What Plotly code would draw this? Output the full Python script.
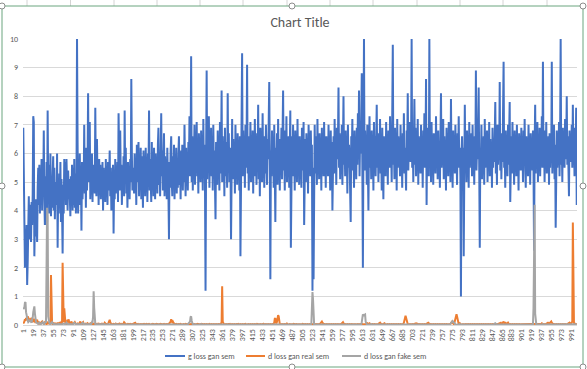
import plotly.graph_objects as go

# ---------------- data ----------------
# g loss gan sem, in tenths
g_loss_tenths = [
    69,41,30,20,32,26,35,14,22,38, 45,30,42,34,29,43,35,46,73,71, 24,36,31,44,38,29,48,55,42,56, 39,51,46,58,40,55,47,68,44,35, 52,35,57,36,75,48,56,39,44,60,
    38,47,41,52,59,40,55,37,50,46, 42,60,27,48,39,53,44,57,36,51, 40,25,49,39,58,45,57,42,58,47, 40,54,44,51,39,38,52,43,56,40, 55,42,58,41,53,39,48,100,65,39,
    55,42,60,45,52,33,57,44,53,48, 70,46,58,41,62,47,55,81,50,58, 71,44,53,49,60,43,56,48,52,46, 76,50,45,65,51,57,42,58,47,56, 44,53,49,57,40,55,46,52,43,58,
    48,54,42,57,47,52,61,45,55,40, 53,47,56,32,50,44,58,46,54,49, 57,43,74,52,47,68,51,56,42,55, 48,59,45,75,50,62,46,55,41,57, 49,53,44,58,50,86,60,47,55,52,
    46,60,49,55,42,63,50,57,64,45, 58,48,62,44,59,52,41,61,49,56, 45,62,50,57,43,60,53,75,47,58, 52,43,64,49,57,45,62,51,44,60, 50,58,46,63,69,49,60,45,56,74,
    52,61,47,56,67,45,59,50,55,44, 62,51,46,30,57,48,61,66,50,45, 59,49,63,44,56,50,62,46,57,48, 60,66,49,56,44,61,52,63,47,58, 50,70,54,45,62,51,58,47,64,55,
    73,52,60,94,50,66,47,62,55,70, 49,64,57,71,52,60,46,67,58,63, 50,68,55,61,47,72,54,63,49,12, 58,89,51,66,56,73,48,62,57,69, 52,65,47,70,55,61,50,37,64,58,
    49,68,56,63,47,71,53,60,82,50, 66,55,61,45,69,52,64,57,48,81, 54,67,50,62,58,30,60,72,51,65, 56,61,46,70,53,64,49,67,58,62, 47,66,24,60,55,95,52,68,57,63,
    48,70,55,61,91,53,66,47,63,58, 71,50,62,55,68,46,64,57,72,52, 60,49,67,56,77,51,63,45,69,58, 62,50,74,55,60,48,66,53,70,57, 49,65,58,71,85,56,16,61,52,68,
    55,63,48,70,57,36,62,53,67,49, 72,56,60,47,65,58,69,51,64,82, 54,61,47,68,57,73,50,62,55,66, 48,64,75,27,59,66,52,70,56,61, 47,68,58,63,50,72,55,61,49,66,
    57,62,48,69,54,60,71,35,58,65, 50,67,56,62,46,70,59,64,52,68, 57,63,12,55,16,61,70,53,66,58, 49,72,56,63,51,67,58,62,47,69, 55,64,52,71,57,60,48,66,59,63,
    52,70,56,61,47,68,54,64,40,60, 66,53,72,57,62,49,69,58,64,83, 55,67,51,63,58,70,49,62,80,56, 64,52,68,57,61,46,70,55,63,58, 50,36,66,59,72,54,62,48,68,57,
    63,51,69,56,74,58,82,52,66,60, 71,88,57,20,63,100,54,68,59,64, 49,70,56,40,62,73,55,65,51,68, 58,63,47,71,56,66,52,60,77,55, 67,50,64,58,72,53,62,47,69,57,
    44,66,58,63,52,71,56,64,49,68, 60,55,73,57,62,50,67,98,56,64, 51,69,58,62,47,72,55,66,59,63, 52,70,57,61,48,67,58,74,53,62, 56,47,68,60,81,54,65,59,71,57,
    62,100,55,67,50,63,79,56,69,52, 64,58,72,49,66,57,61,53,70,56, 63,48,68,59,74,55,62,86,42,64, 57,69,52,100,58,66,50,71,56,63, 49,67,58,62,53,73,56,65,51,68,
    57,62,48,70,81,55,64,59,72,51, 66,57,61,47,69,56,63,52,71,58, 64,50,79,57,62,48,68,56,65,53, 70,57,61,49,67,58,73,55,62,52, 10,60,66,55,62,24,58,77,54,63,
    50,68,57,62,48,71,55,64,59,67, 52,70,58,63,49,66,57,89,54,62, 58,67,83,55,27,62,56,70,51,64, 58,66,49,72,55,61,57,68,50,63, 56,71,52,65,58,62,48,69,55,64,
    57,66,78,53,62,49,70,56,64,58, 85,54,67,51,63,57,72,92,55,61, 48,68,57,63,52,70,56,65,78,43, 60,66,53,71,57,62,49,68,58,64, 52,70,56,61,47,67,59,63,54,69,
    57,63,50,68,56,72,55,48,66,59, 62,52,70,57,64,49,67,58,61,54, 68,55,26,62,77,53,66,58,71,50, 64,57,69,52,62,58,73,55,92,57, 63,50,68,56,71,53,62,58,66,49,
    67,55,62,58,92,53,66,59,70,51, 63,34,60,68,55,62,57,71,52,65, 100,56,63,50,69,57,64,55,72,58, 62,80,56,66,52,45,68,59,63,57, 70,55,77,58,66,52,69,60,76,42,
]

# d loss gan real sem, in hundredths
d_real_hundredths = [
    5,8,12,20,15,25,18,22,30,26, 18,22,15,12,20,25,18,10,14,22, 16,10,8,12,15,18,10,6,8,5, 4,6,8,10,12,7,5,4,8,10, 6,4,3,5,8,6,4,5,10,8,
    175,20,5,3,4,6,3,2,5,4, 3,5,8,4,3,6,10,5,8,5, 10,218,30,10,58,20,8,5,4,12, 18,10,20,4,3,5,8,12,6,4, 3,5,8,10,6,4,3,2,5,4,
    3,5,8,12,6,4,3,8,10,5, 4,3,2,5,3,4,6,3,2,4, 3,5,8,4,3,2,4,3,5,3, 2,3,4,2,3,5,3,2,4,3, 2,3,5,4,3,2,3,8,6,3,
    2,3,4,3,8,12,18,10,4,3, 2,3,2,4,3,2,3,5,3,2, 3,2,4,3,5,3,2,4,3,2, 3,6,10,8,4,3,2,3,2,4, 3,2,3,4,2,3,2,3,4,3,
    4,6,8,5,3,2,3,4,2,3, 2,3,2,4,3,2,3,2,4,3, 2,3,4,2,3,2,5,4,3,2, 3,2,3,2,4,3,2,3,2,3, 2,4,3,2,3,2,3,2,4,3,
    2,3,2,3,4,2,3,2,3,2, 3,2,4,3,5,8,12,20,15,10, 12,8,5,3,2,3,4,2,3,2, 3,2,3,2,4,3,2,3,2,3, 2,3,2,4,3,2,3,2,3,2,
    3,2,3,2,4,3,2,3,2,3, 2,3,2,3,2,4,3,2,3,2, 3,2,4,3,2,3,2,3,2,3, 2,3,2,3,2,3,4,2,3,2, 3,2,3,2,3,2,3,4,3,2,
    3,2,3,2,3,4,3,5,10,135, 12,4,3,2,3,2,3,2,3,2, 3,2,3,4,2,3,2,3,2,3, 2,3,2,3,2,3,2,3,4,2, 3,2,3,2,3,2,3,2,3,4,
    5,4,3,2,3,2,3,2,3,2, 3,2,3,2,3,2,3,2,3,2, 3,2,4,2,3,2,3,2,3,2, 3,2,3,2,4,2,3,2,3,2, 3,2,3,2,3,2,3,2,3,2,
    3,2,4,8,22,24,10,5,12,28, 34,30,10,3,2,3,2,3,2,3, 2,3,2,4,3,2,5,3,2,3, 2,3,2,3,2,3,2,3,4,3, 2,3,2,3,2,3,2,3,2,3,
    3,2,3,2,4,3,2,3,2,3, 2,3,2,3,2,3,2,3,2,3, 2,3,2,3,2,3,4,2,3,2, 3,2,3,2,3,2,4,5,8,12, 8,5,3,2,3,2,3,2,3,2,
    3,2,3,2,3,2,3,2,3,2, 3,2,3,2,3,2,3,2,3,2, 3,2,3,2,4,6,8,10,6,3, 2,3,2,3,2,3,2,3,2,3, 2,3,2,3,2,3,2,3,2,3,
    3,2,3,2,3,2,3,2,3,2, 3,2,3,2,3,2,3,2,3,4, 5,6,4,3,5,6,3,2,3,2, 3,2,3,2,3,2,3,2,3,2, 3,4,5,6,8,5,3,4,3,2,
    3,5,6,3,2,3,2,3,2,3, 2,3,2,3,2,3,2,3,2,3, 2,3,2,3,2,3,2,3,2,3, 2,3,2,3,2,3,4,8,15,28, 32,25,12,5,3,2,3,2,3,2,
    3,2,3,2,3,2,3,4,5,6, 5,4,3,2,3,2,3,2,3,2, 3,2,3,2,3,2,3,2,4,5, 6,8,6,4,3,2,3,2,3,2, 3,2,3,2,3,2,3,2,3,2,
    3,2,3,2,3,2,3,2,3,2, 3,2,3,2,3,2,3,2,3,2, 3,4,6,8,12,8,5,3,6,15, 22,35,38,30,15,5,3,4,6,3, 2,3,2,3,4,3,2,3,2,3,
    2,3,2,3,2,3,2,3,2,3, 2,3,2,3,2,3,2,3,2,3, 2,3,2,3,2,3,2,3,2,3, 2,3,2,3,2,3,2,3,2,3, 2,3,2,3,2,3,2,3,2,3,
    3,2,3,2,3,2,3,2,3,4, 5,6,8,5,3,6,10,12,8,5, 10,6,3,4,6,8,5,3,2,3, 2,3,2,3,2,3,2,3,2,3, 2,3,2,3,2,3,2,3,2,3,
    3,2,3,2,3,2,3,2,3,2, 3,2,3,2,3,2,3,2,3,2, 3,2,3,2,3,2,3,2,3,2, 3,2,3,2,3,4,6,4,3,2, 3,2,3,2,4,5,6,8,6,4,
    6,8,10,12,8,5,3,2,3,2, 3,2,3,2,3,2,3,2,3,2, 3,2,3,2,3,2,3,2,3,2, 3,2,3,4,5,6,8,5,4,6, 8,12,358,40,8,5,4,3,3,3,
]

# d loss gan fake sem, in hundredths
d_fake_hundredths = [
    55,60,62,78,80,45,30,20,15,10, 12,18,15,12,10,8,20,25,45,62, 65,40,20,10,8,6,5,4,6,8, 5,4,3,6,8,10,5,4,3,8, 8,10,200,410,380,30,10,8,4,3,
    5,8,10,6,4,3,2,3,2,3, 2,3,2,3,4,3,2,3,2,3, 2,3,5,4,3,2,3,5,8,5, 3,2,3,2,3,2,3,2,3,2, 3,5,8,6,4,3,2,3,2,3,
    2,3,2,3,2,3,5,8,6,3, 2,3,2,3,2,3,2,3,2,3, 2,3,2,5,10,8,30,118,60,5, 3,2,3,2,3,2,3,2,3,2, 3,2,3,2,3,2,3,2,3,2,
    2,1,2,3,2,1,2,2,3,2, 1,2,3,2,2,1,2,3,2,2, 1,2,2,3,2,1,2,2,3,2, 2,1,2,3,2,2,1,2,3,2, 2,1,2,2,3,2,1,2,2,3,
    2,1,2,2,3,2,1,2,3,2, 2,1,2,3,2,2,1,2,2,3, 2,1,2,3,2,1,2,2,3,2, 1,2,3,2,2,1,2,3,2,2, 1,2,2,3,2,1,2,2,3,2,
    2,1,2,3,2,1,2,2,3,2, 1,2,3,2,2,1,2,3,2,2, 1,2,2,3,2,1,2,2,3,2, 2,1,2,3,2,2,1,2,3,2, 2,1,2,2,3,2,1,2,5,8,
    10,12,28,30,15,5,2,3,2,1, 2,2,3,2,1,2,3,2,2,1, 2,3,2,2,1,2,2,3,2,1, 2,3,2,2,1,2,3,2,2,1, 2,2,3,2,1,2,3,2,2,1,
    2,3,2,2,1,2,2,3,2,1, 2,3,2,2,1,2,3,2,2,1, 2,2,3,2,1,2,3,2,2,1, 2,3,2,2,1,2,2,3,2,1, 2,3,2,2,1,2,3,2,2,1,
    2,2,3,2,1,2,3,2,2,1, 2,3,2,2,1,2,2,3,2,1, 2,3,2,2,1,2,3,2,2,1, 2,2,3,2,1,2,3,2,2,1, 2,3,2,2,1,2,2,3,2,1,
    2,3,2,2,1,2,3,2,2,1, 2,2,3,2,1,2,3,2,2,1, 2,3,2,2,1,2,2,3,2,1, 2,3,2,2,1,2,3,2,2,1, 2,2,3,2,1,2,3,2,2,1,
    2,1,2,3,2,1,2,2,3,2, 1,2,3,2,2,1,2,3,2,2, 5,40,115,90,10,1,2,2,3,2, 2,1,2,3,2,2,1,2,3,2, 2,1,2,2,3,2,1,2,2,3,
    2,1,2,2,3,2,1,2,3,2, 2,1,2,3,2,2,1,2,2,3, 2,1,2,3,2,1,2,2,3,2, 1,2,3,2,2,1,2,3,2,2, 1,2,2,3,2,1,2,2,3,2,
    2,1,2,3,2,1,2,2,3,2, 2,10,36,37,35,34,36,37,12,2, 2,1,2,3,2,2,1,2,3,2, 2,1,2,2,3,2,1,2,2,3, 2,1,2,3,2,1,2,2,3,2,
    1,2,3,2,2,1,2,3,2,2, 1,2,2,3,2,1,2,2,3,2, 2,1,2,3,2,2,1,2,3,2, 2,1,2,2,3,2,1,2,2,3, 2,1,2,3,2,1,2,2,3,2,
    1,2,3,2,2,1,2,3,2,2, 1,2,2,3,2,1,2,2,3,2, 2,1,2,3,2,2,1,2,3,2, 2,1,2,2,3,2,1,2,2,3, 2,1,2,3,2,1,2,2,3,2,
    2,1,2,3,2,1,2,2,3,2, 1,2,3,2,2,1,2,3,2,2, 2,4,6,10,12,14,12,8,4,2, 2,1,2,3,2,2,1,2,3,2, 2,1,2,2,3,2,1,2,2,3,
    2,1,2,3,2,1,2,2,3,2, 1,2,3,2,2,1,2,3,2,2, 1,2,2,3,2,1,2,2,3,2, 2,1,2,3,2,2,1,2,3,2, 2,1,2,2,3,2,1,2,2,3,
    2,5,6,4,2,1,2,2,3,2, 1,2,3,2,2,1,2,3,2,2, 1,2,2,3,2,1,2,2,3,2, 2,1,2,3,2,2,1,2,3,2, 2,1,2,2,3,2,1,2,2,3,
    2,1,2,3,2,1,2,2,3,2, 1,2,3,2,2,1,2,3,2,2, 2,60,418,420,40,2,2,3,2,1, 2,1,2,3,2,2,1,2,3,2, 2,1,2,2,3,2,1,2,2,3,
    2,1,2,3,2,1,2,2,3,2, 1,2,3,2,2,1,2,3,2,2, 1,2,2,3,2,1,2,2,3,2, 2,1,2,3,2,2,1,2,3,2, 2,1,2,2,3,2,1,2,2,3,
]

assert len(g_loss_tenths) == 1000, len(g_loss_tenths)
assert len(d_real_hundredths) == 1000, len(d_real_hundredths)
assert len(d_fake_hundredths) == 1000, len(d_fake_hundredths)

categories = list(range(1, 1001))
g_loss = [v / 10 for v in g_loss_tenths]
d_real = [v / 100 for v in d_real_hundredths]
d_fake = [v / 100 for v in d_fake_hundredths]

tick_values = list(range(1, 1001, 18))
tick_labels = [str(v) for v in tick_values]

series_names = ["g loss gan sem", "d loss gan real sem", "d loss gan fake sem"]
series_colors = ["#4472C4", "#ED7D31", "#A5A5A5"]

# ---------------- figure ----------------
W, H = 587, 369
ML, MR, MT, MB = 23, 10, 39, 44
PW, PH = W - ML - MR, H - MT - MB

def px_x(p):
    return (p - ML) / PW

def px_y(p):
    return (H - MB - p) / PH

fig = go.Figure()
for name, ys, col in zip(series_names, [g_loss, d_real, d_fake], series_colors):
    fig.add_trace(go.Scatter(x=categories, y=ys, mode="lines", name=name,
                             line=dict(color=col, width=2), showlegend=False))

font_family = "Carlito, Calibri, Lato, sans-serif"
fig.update_layout(
    width=W, height=H,
    margin=dict(l=ML, r=MR, t=MT, b=MB, pad=0),
    paper_bgcolor="white", plot_bgcolor="white",
    font=dict(family=font_family, color="#595959", size=8),
    title=dict(text="Chart Title", x=0.5, xref="paper", xanchor="center",
               y=1 - 22 / H, yref="container", yanchor="middle",
               font=dict(size=14, color="#595959", family=font_family)),
    showlegend=False,
)
fig.update_xaxes(range=[0.5, 1000.5], tickmode="array", tickvals=tick_values,
                 ticktext=tick_labels, tickangle=-90, showgrid=False,
                 zeroline=False, showline=True, linecolor="#d9d9d9", linewidth=1,
                 ticks="", tickfont=dict(size=8, color="#595959"))
fig.update_yaxes(range=[0, 10], dtick=1, showgrid=True, gridcolor="#d9d9d9",
                 gridwidth=1, zeroline=False, showline=False, ticks="",
                 ticklabelstandoff=4,
                 tickfont=dict(size=8, color="#595959"))

shapes = []
annotations = []
# worksheet column lines above the chart
for cx in [27, 70.5, 114, 157, 200, 243, 287, 330, 373, 417, 460, 503, 547]:
    shapes.append(dict(type="line", xref="paper", yref="paper",
                       x0=px_x(cx), x1=px_x(cx), y0=px_y(0), y1=px_y(6),
                       line=dict(color="#d4d4d4", width=1), layer="below"))
# chart selection border
shapes.append(dict(type="rect", xref="paper", yref="paper",
                   x0=px_x(2), x1=px_x(583), y0=px_y(367), y1=px_y(6),
                   line=dict(color="#6aa57e", width=1), fillcolor="rgba(0,0,0,0)"))
# selection handles
for hx, hy in [(2, 6), (292, 6), (583, 6), (2, 186), (583, 186), (2, 367), (292, 367), (583, 367)]:
    shapes.append(dict(type="circle", xref="paper", yref="paper",
                       x0=px_x(hx - 3), x1=px_x(hx + 3), y0=px_y(hy + 3), y1=px_y(hy - 3),
                       line=dict(color="#8c8c8c", width=1), fillcolor="white"))

# legend (Excel style: short line sample followed by the series name)
legend_line_x = [(165, 185), (246, 265), (342, 361)]
legend_y = 356
for (lx0, lx1), name, col in zip(legend_line_x, series_names, series_colors):
    shapes.append(dict(type="line", xref="paper", yref="paper",
                       x0=px_x(lx0), x1=px_x(lx1), y0=px_y(legend_y), y1=px_y(legend_y),
                       line=dict(color=col, width=2)))
    annotations.append(dict(text=name, xref="paper", yref="paper",
                            x=px_x(lx1 + 1), y=px_y(legend_y), xanchor="left", yanchor="middle",
                            showarrow=False, font=dict(size=8, color="#595959")))

fig.update_layout(shapes=shapes, annotations=annotations)

fig.write_html("out.html", config={"displayModeBar": False},
               post_script="document.body.style.margin='0';document.body.style.padding='0';")
